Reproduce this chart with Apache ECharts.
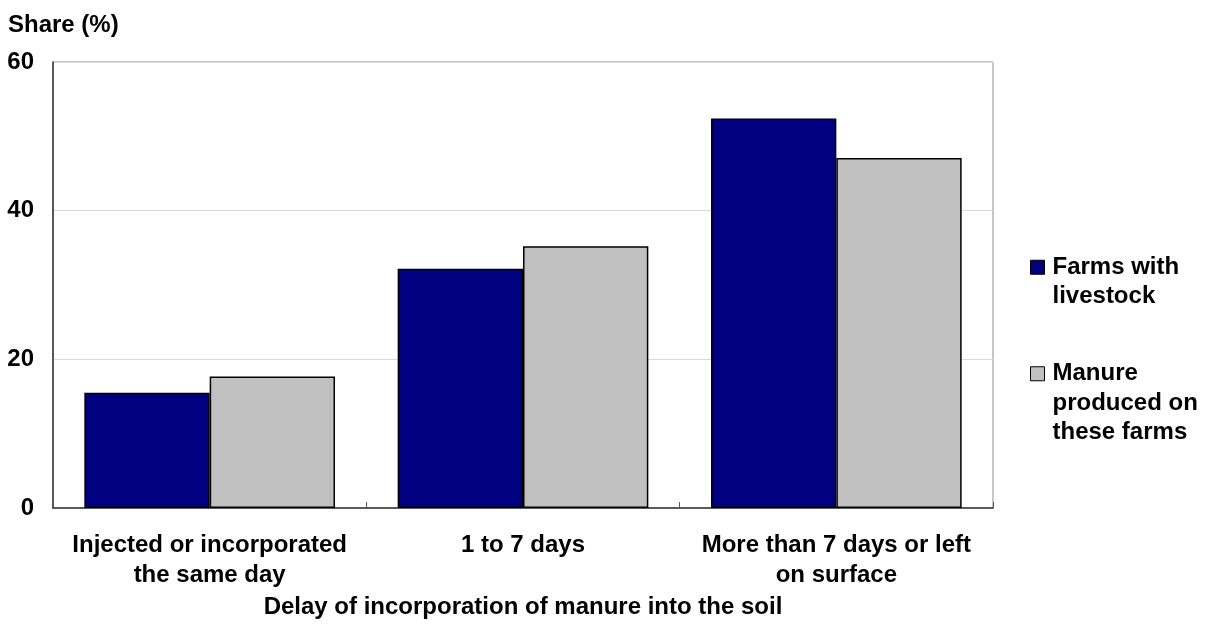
<!DOCTYPE html>
<html>
<head>
<meta charset="utf-8">
<script src="https://cdn.jsdelivr.net/npm/echarts@6/dist/echarts.min.js"></script>
<style>
html,body{margin:0;padding:0;background:#fff;}
#main{width:1207px;height:639px;}
</style>
</head>
<body>
<div id="main"></div>
<script>
var categories = ['Injected or incorporated\nthe same day', '1 to 7 days', 'More than 7 days or left\non surface'];
var farmsWithLivestock = [15.5, 32.2, 52.4];
var manureProduced = [17.7, 35.2, 47.1];
var seriesNames = ['Farms with\nlivestock', 'Manure\nproduced on\nthese farms'];
var yTicks = {min: 0, max: 60, interval: 20};

var font = 'Liberation Sans, Arial, sans-serif';
var fs = 24;
// pad with empty lines above so the icon sits beside the first line of a multi-line name
function firstLineAligned(name) {
  var n = name.split('\n').length;
  var pad = '';
  for (var i = 1; i < n; i++) pad += '\n';
  return pad + name;
}
var legendText = {fontFamily: font, fontWeight: 'bold', fontSize: fs, color: '#000', lineHeight: 29.5, padding: [0, 0, 0, 3]};
var chart = echarts.init(document.getElementById('main'));
chart.setOption({
  animation: false,
  backgroundColor: '#fff',
  title: {
    text: 'Share (%)', left: 8, top: 13, padding: 0,
    textStyle: {fontFamily: font, fontWeight: 'bold', fontSize: fs, color: '#000'}
  },
  legend: [{
    data: [seriesNames[0]], orient: 'vertical', left: 1030, top: 223, padding: 0,
    itemWidth: 14, itemHeight: 14, itemGap: 0,
    icon: 'rect', formatter: firstLineAligned,
    itemStyle: {borderColor: '#000', borderWidth: 1},
    textStyle: legendText
  }, {
    data: [seriesNames[1]], orient: 'vertical', left: 1030, top: 300, padding: 0,
    itemWidth: 14, itemHeight: 14, itemGap: 0,
    icon: 'rect', formatter: firstLineAligned,
    itemStyle: {borderColor: '#000', borderWidth: 1},
    textStyle: legendText
  }],
  grid: {left: 53, right: 214, top: 62, bottom: 131, show: true, borderColor: '#8c8c8c', borderWidth: 1},
  xAxis: {
    type: 'category', data: categories,
    name: 'Delay of incorporation of manure into the soil',
    nameLocation: 'middle', nameGap: 84,
    nameTextStyle: {fontFamily: font, fontWeight: 'bold', fontSize: fs, color: '#000'},
    axisLine: {lineStyle: {color: '#333', width: 1.5}},
    axisTick: {show: true, inside: true, length: 6, lineStyle: {color: '#555'}},
    axisLabel: {fontFamily: font, fontWeight: 'bold', fontSize: fs, color: '#000', lineHeight: 30, margin: 22, interval: 0}
  },
  yAxis: {
    type: 'value', min: yTicks.min, max: yTicks.max, interval: yTicks.interval,
    axisLine: {show: true, lineStyle: {color: '#333', width: 1.5}},
    axisTick: {show: false},
    axisLabel: {fontFamily: font, fontWeight: 'bold', fontSize: fs, color: '#000', margin: 19},
    splitLine: {lineStyle: {color: '#d9d9d9', width: 1}}
  },
  series: [{
    name: seriesNames[0], type: 'bar', data: farmsWithLivestock,
    barGap: '0%', barCategoryGap: '20%',
    itemStyle: {color: '#000080', borderColor: '#000', borderWidth: 1.5}
  }, {
    name: seriesNames[1], type: 'bar', data: manureProduced,
    itemStyle: {color: '#c0c0c0', borderColor: '#000', borderWidth: 1.5}
  }]
});
</script>
</body>
</html>
